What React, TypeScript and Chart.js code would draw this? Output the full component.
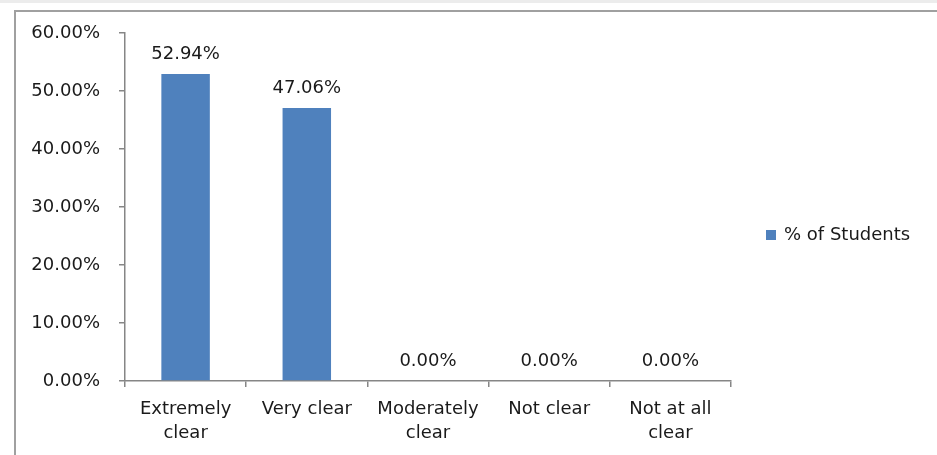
import React, { useEffect, useRef } from "react";
import { Chart, registerables } from "chart.js";

Chart.register(...registerables);

const categories: string[][] = [
  ["Extremely", "clear"],
  ["Very clear"],
  ["Moderately", "clear"],
  ["Not clear"],
  ["Not at all", "clear"],
];
const seriesName = "% of Students";
const studentsPct = [52.94, 47.06, 0, 0, 0];
const yMax = 60;
const yStep = 10;

const BAR = "#4F81BD";
const AXIS = "#868686";
const TEXT = "#1a1a1a";
const FONT = "DejaVu Sans";
const FS = 18;

const labelsPlugin = {
  id: "barLabels",
  afterDatasetsDraw(chart: any) {
    const ctx = chart.ctx;
    const meta = chart.getDatasetMeta(0);
    ctx.save();
    ctx.font = `${FS}px "${FONT}"`;
    ctx.fillStyle = TEXT;
    ctx.textAlign = "center";
    ctx.textBaseline = "middle";
    meta.data.forEach((bar: any, i: number) => {
      const v = chart.data.datasets[0].data[i] as number;
      ctx.fillText(v.toFixed(2) + "%", bar.x, bar.y - 20);
    });
    ctx.restore();
  },
};

const legendPlugin = {
  id: "sideLegend",
  afterDraw(chart: any) {
    const ctx = chart.ctx;
    const x = chart.chartArea.right + 35;
    const y = 235;
    ctx.save();
    ctx.fillStyle = BAR;
    ctx.fillRect(x, y - 5, 10, 10);
    ctx.font = `${FS}px "${FONT}"`;
    ctx.fillStyle = TEXT;
    ctx.textAlign = "left";
    ctx.textBaseline = "middle";
    ctx.fillText(chart.data.datasets[0].label, x + 18, y);
    ctx.restore();
  },
};

export default function App() {
  const ref = useRef<HTMLCanvasElement | null>(null);
  useEffect(() => {
    if (!ref.current) return;
    const chart = new Chart(ref.current, {
      type: "bar",
      data: {
        labels: categories,
        datasets: [
          {
            label: seriesName,
            data: studentsPct,
            backgroundColor: BAR,
            borderWidth: 0,
            barPercentage: 0.4,
            categoryPercentage: 1,
          },
        ],
      },
      options: {
        responsive: false,
        animation: false,
        layout: { padding: { left: 0, top: 33, right: 206, bottom: 0 } },
        plugins: { legend: { display: false }, tooltip: { enabled: false } },
        scales: {
          x: {
            offset: true,
            grid: {
              offset: true,
              drawOnChartArea: false,
              drawTicks: true,
              tickLength: 6,
              color: AXIS,
              lineWidth: 1.5,
            },
            border: { display: true, color: AXIS, width: 1.5 },
            ticks: {
              color: TEXT,
              font: { family: FONT, size: FS, lineHeight: 1.35 },
              padding: 10,
              maxRotation: 0,
              autoSkip: false,
            },
            afterFit(scale: any) {
              scale.height = 74;
            },
          },
          y: {
            min: 0,
            max: yMax,
            grid: {
              drawOnChartArea: false,
              drawTicks: true,
              tickLength: 6,
              color: AXIS,
              lineWidth: 1.5,
            },
            border: { display: true, color: AXIS, width: 1.5 },
            ticks: {
              stepSize: yStep,
              color: TEXT,
              font: { family: FONT, size: FS },
              padding: 19,
              callback: (v: any) => Number(v).toFixed(2) + "%",
            },
            afterFit(scale: any) {
              scale.width = 125;
            },
          },
        },
      },
      plugins: [labelsPlugin, legendPlugin],
    });
    return () => chart.destroy();
  }, []);

  return (
    <div
      style={{
        position: "fixed",
        left: 0,
        top: 0,
        width: 937,
        height: 455,
        overflow: "hidden",
        background: "#ffffff",
      }}
    >
      <div style={{ position: "absolute", left: 0, top: 0, width: 937, height: 3, background: "#ececec" }} />
      <div
        style={{
          position: "absolute",
          left: 14,
          top: 10,
          width: 1000,
          height: 1000,
          border: "2px solid #a0a0a0",
        }}
      />
      <canvas ref={ref} width={937} height={455} style={{ position: "absolute", left: 0, top: 0 }} />
    </div>
  );
}
